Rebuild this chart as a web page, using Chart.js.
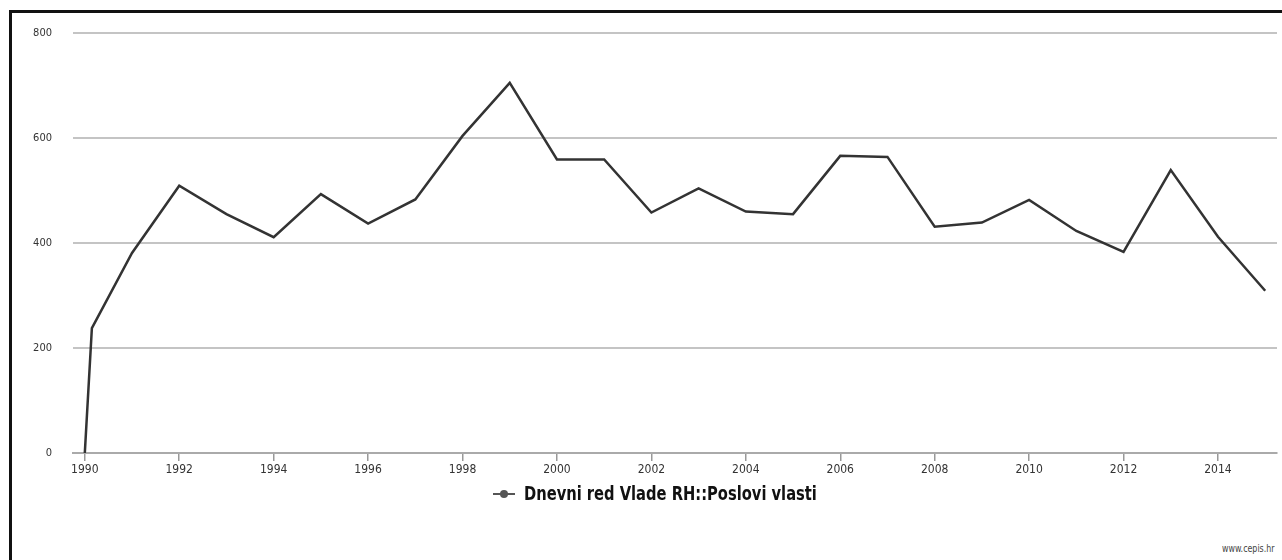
<!DOCTYPE html>
<html>
<head>
<meta charset="utf-8">
<script src="https://cdn.jsdelivr.net/npm/chart.js@4.4.1/dist/chart.umd.min.js"></script>
<style>
  html, body { margin: 0; padding: 0; background: #fff; }
  body { width: 1282px; height: 560px; position: relative; overflow: hidden;
         font-family: "Liberation Sans Narrow", "DejaVu Sans Condensed", "Liberation Sans", sans-serif; }
  #frame { position: absolute; left: 9px; top: 10px; width: 1300px; height: 600px;
           border-top: 3px solid #111; border-left: 3px solid #111; }
  #wrap { position: absolute; left: 0; top: 0; width: 1282px; height: 483px; }
  #legend { position: absolute; top: 482px; left: 493px; white-space: nowrap;
            font-weight: bold; font-size: 19px; color: #111; }
  #legend .txt { display: inline-block; transform: scaleX(0.86); transform-origin: left center; }
  #legend .mark { display: inline-block; position: relative; width: 22px; height: 10px; margin-right: 9px; vertical-align: 1px; }
  #legend .mark:before { content: ""; position: absolute; left: 0; right: 0; top: 4px; height: 2px; background: #555; }
  #legend .mark:after { content: ""; position: absolute; left: 7px; top: 1px; width: 8px; height: 8px; border-radius: 50%; background: #555; }
  #credit { position: absolute; left: 1222px; top: 543px; font-size: 10px; color: #444;
            transform: scaleX(0.88); transform-origin: left center; }
</style>
</head>
<body>
<div id="frame"></div>
<div id="wrap"><canvas id="chart"></canvas></div>
<div id="legend"><span class="mark"></span><span class="txt">Dnevni red Vlade RH::Poslovi vlasti</span></div>
<div id="credit">www.cepis.hr</div>
<script>
// data
const seriesName = 'Dnevni red Vlade RH::Poslovi vlasti';
const years = [1990, 1990.15, 1991, 1992, 1993, 1994, 1995, 1996, 1997, 1998, 1999, 2000, 2001, 2002,
  2003, 2004, 2005, 2006, 2007, 2008, 2009, 2010, 2011, 2012, 2013, 2014, 2015];
const values = [0, 238, 381, 509, 455, 411, 493, 437, 483, 604, 705, 559, 559, 458,
  504, 460, 455, 566, 564, 431, 439, 482, 423, 383, 539, 412, 309];
const xTicks = [1990, 1992, 1994, 1996, 1998, 2000, 2002, 2004, 2006, 2008, 2010, 2012, 2014];
const yTicks = [0, 200, 400, 600, 800];

const FONT = '"Liberation Sans Narrow", "DejaVu Sans Condensed", "Liberation Sans", sans-serif';

new Chart(document.getElementById('chart'), {
  type: 'line',
  data: {
    datasets: [{
      label: seriesName,
      data: years.map((y, i) => ({ x: y, y: values[i] })),
      borderColor: '#333',
      borderWidth: 2.5,
      pointRadius: 0,
      tension: 0,
      fill: false
    }]
  },
  options: {
    responsive: true,
    maintainAspectRatio: false,
    animation: false,
    layout: { padding: { top: 33, right: 5, left: 0, bottom: 0 } },
    plugins: { legend: { display: false }, tooltip: { enabled: false } },
    scales: {
      x: {
        type: 'linear',
        min: 1989.75,
        max: 2015.25,
        afterBuildTicks: axis => { axis.ticks = xTicks.map(v => ({ value: v })); },
        afterFit: scale => { scale.height = 30; },
        grid: { drawOnChartArea: false, drawTicks: true, tickLength: 8, tickColor: '#999', lineWidth: 1.5 },
        border: { display: true, color: '#aaa', width: 2 },
        ticks: { color: '#333', padding: 2, maxRotation: 0, font: { family: FONT, size: 12 },
                 callback: v => String(v) }
      },
      y: {
        min: 0,
        max: 800,
        afterBuildTicks: axis => { axis.ticks = yTicks.map(v => ({ value: v })); },
        afterFit: scale => { scale.width = 73; },
        grid: { color: '#c4c4c4', lineWidth: 2, drawTicks: false },
        border: { display: false },
        ticks: { color: '#333', padding: 21, font: { family: FONT, size: 11 } }
      }
    }
  }
});
</script>
</body>
</html>
